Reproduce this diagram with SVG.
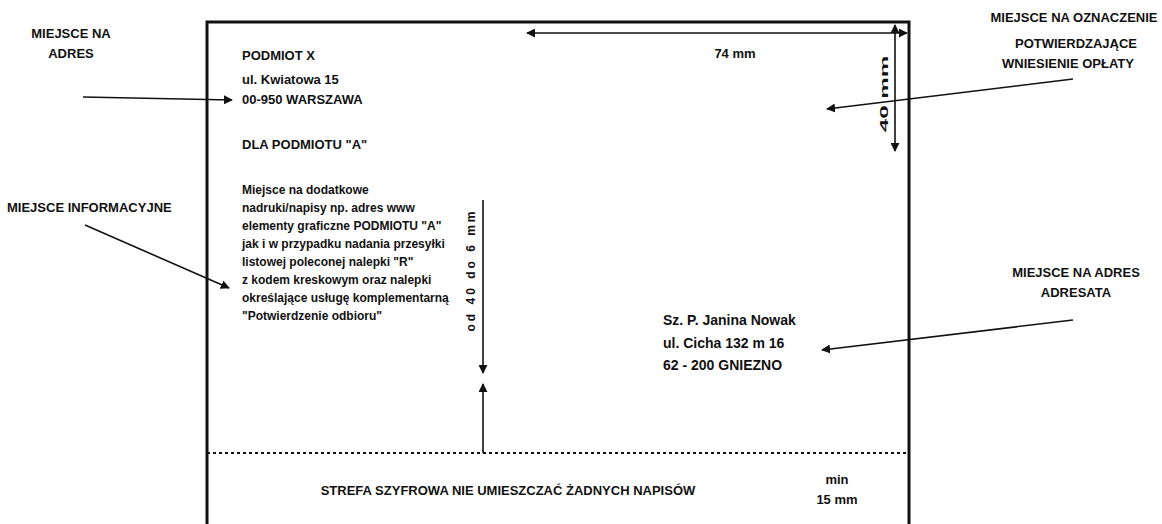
<svg xmlns="http://www.w3.org/2000/svg" width="1162" height="524" viewBox="0 0 1162 524">
<style>
text{font-family:"Liberation Sans",Arial,sans-serif;font-weight:bold;fill:#111;}
.lbl{font-size:13px;}
.mid{text-anchor:middle;}
.sm{font-size:12px;}
.addr{font-size:13px;}
.rcv{font-size:14px;}
.con{stroke:#111;stroke-width:1.6;fill:none;}
</style>
<defs>
<marker id="ah" viewBox="0 0 10 10" refX="9" refY="5" markerWidth="9" markerHeight="9" markerUnits="userSpaceOnUse" orient="auto-start-reverse">
<path d="M0,0 L10,5 L0,10 z" fill="#111"/>
</marker>
</defs>
<rect width="1162" height="524" fill="#fff"/>

<g id="envelope">
<path d="M207,524 V22 H909 V524" fill="none" stroke="#111" stroke-width="3"/>
<line x1="207" y1="453" x2="909" y2="453" stroke="#111" stroke-width="2" stroke-dasharray="3,3"/>
</g>

<g id="label-adres">
<text class="lbl mid" x="71" y="38">MIEJSCE NA</text>
<text class="lbl mid" x="71" y="58">ADRES</text>
</g>

<g id="label-oplata">
<text class="lbl mid" x="1074" y="22">MIEJSCE NA OZNACZENIE</text>
<text class="lbl mid" x="1076" y="48">POTWIERDZAJĄCE</text>
<text class="lbl mid" x="1068" y="68">WNIESIENIE OPŁATY</text>
</g>

<g id="label-informacyjne">
<text class="lbl" x="7" y="212">MIEJSCE INFORMACYJNE</text>
</g>

<g id="label-adresata">
<text class="lbl mid" x="1076" y="277">MIEJSCE NA ADRES</text>
<text class="lbl mid" x="1076" y="297">ADRESATA</text>
</g>

<g id="sender">
<text class="addr" x="242" y="60">PODMIOT X</text>
<text class="addr" x="242" y="84">ul. Kwiatowa 15</text>
<text class="addr" x="242" y="104">00-950 WARSZAWA</text>
<text class="addr" x="242" y="149">DLA PODMIOTU "A"</text>
</g>

<g id="info">
<text class="sm" x="242" y="194">Miejsce na dodatkowe</text>
<text class="sm" x="242" y="212">nadruki/napisy np. adres www</text>
<text class="sm" x="242" y="230">elementy graficzne PODMIOTU "A"</text>
<text class="sm" x="242" y="248">jak i w przypadku nadania przesyłki</text>
<text class="sm" x="242" y="266">listowej poleconej nalepki "R"</text>
<text class="sm" x="242" y="284">z kodem kreskowym oraz nalepki</text>
<text class="sm" x="242" y="302">określające usługę komplementarną</text>
<text class="sm" x="242" y="320">"Potwierdzenie odbioru"</text>
</g>

<g id="recipient">
<text class="rcv" x="663" y="325">Sz. P. Janina Nowak</text>
<text class="rcv" x="663" y="348">ul. Cicha 132 m 16</text>
<text class="rcv" x="663" y="370">62 - 200 GNIEZNO</text>
</g>

<g id="dimensions">
<text class="lbl mid" x="735" y="58">74 mm</text>
<text class="mid" x="0" y="0" font-size="11" transform="translate(888,94) rotate(-90) scale(2.2,1)">40 mm</text>
<text class="sm mid" x="0" y="0" transform="translate(475,270) rotate(-90)" letter-spacing="3">od 40 do 6 mm</text>
<text class="lbl mid" x="837" y="484">min</text>
<text class="lbl mid" x="837" y="504">15 mm</text>
</g>

<g id="strefa">
<text class="lbl mid" x="508" y="495">STREFA SZYFROWA NIE UMIESZCZAĆ ŻADNYCH NAPISÓW</text>
</g>

<g id="connectors">
<line class="con" x1="83" y1="97" x2="232" y2="100" marker-end="url(#ah)"/>
<line class="con" x1="85" y1="225" x2="229" y2="288" marker-end="url(#ah)"/>
<line class="con" x1="1073" y1="79" x2="827" y2="109" marker-end="url(#ah)"/>
<line class="con" x1="1073" y1="320" x2="822" y2="350" marker-end="url(#ah)"/>
<line class="con" x1="527" y1="33" x2="907" y2="33" marker-start="url(#ah)" marker-end="url(#ah)"/>
<line class="con" x1="895" y1="25" x2="895" y2="151" marker-start="url(#ah)" marker-end="url(#ah)"/>
<line class="con" x1="483" y1="200" x2="483" y2="373" marker-end="url(#ah)"/>
<line class="con" x1="483" y1="453" x2="483" y2="384" marker-end="url(#ah)"/>
</g>
</svg>
